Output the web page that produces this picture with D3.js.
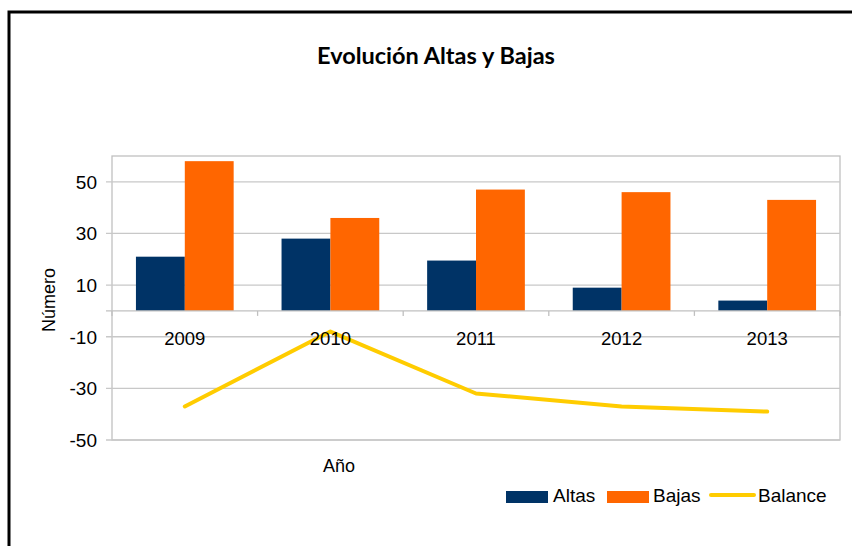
<!DOCTYPE html>
<html>
<head>
<meta charset="utf-8">
<script src="https://cdn.jsdelivr.net/npm/d3@7"></script>
<style>
  body { margin: 0; background: #fff; }
  text { font-family: "Liberation Sans", Arial, sans-serif; fill: #000; }
</style>
</head>
<body>
<svg class="chart"></svg>
<script>
let width = 852,
  height = 546;

// data
let years = ["2009", "2010", "2011", "2012", "2013"];
let altas = [21, 28, 19.5, 9, 4];
let bajas = [58, 36, 47, 46, 43];
let balance = [-37, -8, -32, -37, -39];
let yTicks = [-50, -30, -10, 10, 30, 50];

let svg = d3.select(".chart").attr("width", width).attr("height", height);

// outer frame
svg.append("path")
  .attr("d", "M9,546 V12 H852")
  .attr("fill", "none")
  .attr("stroke", "#000")
  .attr("stroke-width", 3);

let plot = { left: 112, right: 840, top: 156, bottom: 440 };

let x = d3.scaleBand().domain(years).range([plot.left, plot.right]);
let xInner = d3.scaleBand().domain(["Altas", "Bajas"])
  .range([0, x.bandwidth()]).paddingOuter(0.49).paddingInner(0);
let y = d3.scaleLinear().domain([-50, 60]).range([plot.bottom, plot.top]);

// title
svg.append("text")
  .attr("x", 436).attr("y", 64)
  .attr("text-anchor", "middle")
  .style("font-family", "Lato, 'Open Sans', sans-serif")
  .style("font-weight", "bold")
  .style("font-size", "23.5px")
  .text("Evolución Altas y Bajas");

// plot frame + grid
svg.append("rect")
  .attr("x", plot.left).attr("y", plot.top)
  .attr("width", plot.right - plot.left).attr("height", plot.bottom - plot.top)
  .attr("fill", "none").attr("stroke", "#c0c0c0").attr("stroke-width", 1.3);

svg.append("g")
  .selectAll("line")
  .data(yTicks)
  .enter()
  .append("line")
  .attr("x1", plot.left - 6).attr("x2", plot.right)
  .attr("y1", (d) => y(d)).attr("y2", (d) => y(d))
  .attr("stroke", "#c8c8c8").attr("stroke-width", 1.3);

// y tick labels
svg.append("g")
  .selectAll("text")
  .data(yTicks)
  .enter()
  .append("text")
  .attr("x", 97).attr("y", (d) => y(d) + 7)
  .attr("text-anchor", "end")
  .style("font-size", "19px")
  .text((d) => d);

// bars
let groups = svg.append("g")
  .selectAll("g")
  .data(years)
  .enter()
  .append("g")
  .attr("transform", (d) => "translate(" + x(d) + ",0)");

groups.append("rect")
  .attr("x", xInner("Altas"))
  .attr("width", xInner.bandwidth())
  .attr("y", (d, i) => y(altas[i]))
  .attr("height", (d, i) => y(0) - y(altas[i]))
  .attr("fill", "#003366");

groups.append("rect")
  .attr("x", xInner("Bajas"))
  .attr("width", xInner.bandwidth())
  .attr("y", (d, i) => y(bajas[i]))
  .attr("height", (d, i) => y(0) - y(bajas[i]))
  .attr("fill", "#ff6600");

// x axis at zero
svg.append("line")
  .attr("x1", plot.left - 6).attr("x2", plot.right)
  .attr("y1", y(0)).attr("y2", y(0))
  .attr("stroke", "#c0c0c0").attr("stroke-width", 1.3);

svg.append("g")
  .selectAll("line")
  .data(years.concat(["end"]))
  .enter()
  .append("line")
  .attr("x1", (d) => (d == "end" ? plot.right : x(d)))
  .attr("x2", (d) => (d == "end" ? plot.right : x(d)))
  .attr("y1", y(0)).attr("y2", y(0) + 5)
  .attr("stroke", "#c0c0c0").attr("stroke-width", 1.3);

// balance line
let line = d3.line()
  .x((d, i) => x(years[i]) + x.bandwidth() / 2)
  .y((d) => y(d));

svg.append("path")
  .datum(balance)
  .attr("d", line)
  .attr("fill", "none")
  .attr("stroke", "#ffcc00")
  .attr("stroke-width", 4)
  .attr("stroke-linecap", "round")
  .attr("stroke-linejoin", "round");

// year labels
svg.append("g")
  .selectAll("text")
  .data(years)
  .enter()
  .append("text")
  .attr("x", (d) => x(d) + x.bandwidth() / 2)
  .attr("y", y(0) + 34)
  .attr("text-anchor", "middle")
  .style("font-size", "18.5px")
  .text((d) => d);

// axis titles
svg.append("text")
  .attr("x", 339).attr("y", 472)
  .attr("text-anchor", "middle")
  .style("font-size", "18px")
  .text("Año");

svg.append("text")
  .attr("transform", "translate(55,300) rotate(-90)")
  .attr("text-anchor", "middle")
  .style("font-size", "18px")
  .text("Número");

// legend
let legend = svg.append("g");
legend.append("rect").attr("x", 506).attr("y", 491).attr("width", 42).attr("height", 12).attr("fill", "#003366");
legend.append("text").attr("x", 553).attr("y", 502).style("font-size", "19px").text("Altas");
legend.append("rect").attr("x", 607).attr("y", 491).attr("width", 42).attr("height", 12).attr("fill", "#ff6600");
legend.append("text").attr("x", 653).attr("y", 502).style("font-size", "19px").text("Bajas");
legend.append("line").attr("x1", 711).attr("x2", 754).attr("y1", 495).attr("y2", 495)
  .attr("stroke", "#ffcc00").attr("stroke-width", 4).attr("stroke-linecap", "round");
legend.append("text").attr("x", 758).attr("y", 502).style("font-size", "19px").text("Balance");
</script>
</body>
</html>
